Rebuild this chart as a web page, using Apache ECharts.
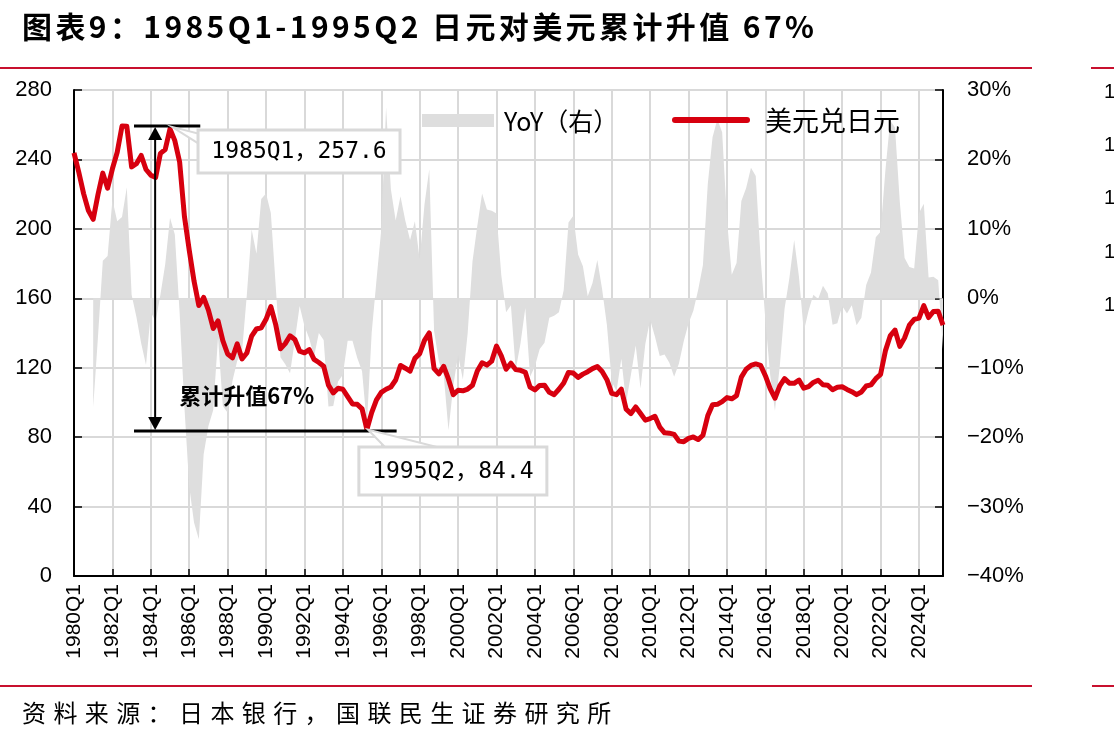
<!DOCTYPE html>
<html>
<head>
<meta charset="utf-8">
<title>1985Q1-1995Q2 日元对美元累计升值</title>
<script src="https://cdn.jsdelivr.net/npm/echarts@6/dist/echarts.min.js"></script>
<style>
    body { margin: 0; background: #fff; }
    #wrap { position: relative; width: 1114px; height: 740px; overflow: hidden; }
    #chart { position: absolute; left: 0; top: 0; width: 1114px; height: 740px; }
    .title {
        position: absolute; left: 22px; top: 9px;
        font: bold 30px/32px "Noto Sans CJK SC", sans-serif;
        letter-spacing: 3.4px; white-space: nowrap; color: #000;
    }
    .source {
        position: absolute; left: 22px; top: 699px;
        font: 24px/26px "Noto Sans CJK SC", sans-serif;
        letter-spacing: 7.4px; white-space: nowrap; color: #000;
    }
</style>
</head>
<body>
<div id="wrap">
    <div id="chart"></div>
    <div class="title">图表9：1985Q1-1995Q2 日元对美元累计升值 67%</div>
    <div class="source">资料来源：日本银行，国联民生证券研究所</div>
</div>
<script>
    // 季度标签 1980Q1 - 2025Q2
    const quarters = []
    for (let y = 1980; y <= 2025; y++) {
        for (let q = 1; q <= 4; q++) {
            if (y === 2025 && q > 2) break
            quarters.push(y + 'Q' + q)
        }
    }

    // 美元兑日元（季度均值）
    const usdJpy = [
        243.8, 232.6, 220.3, 210.5, // 1980
        205.5, 219.8, 232.1, 223.4,
        234.6, 244.1, 259.2, 259.1,
        235.7, 237.5, 242.3, 234.2,
        230.9, 229.6, 243.5, 245.7,
        257.6, 250.8, 238.5, 207.2, // 1985
        187.8, 169.9, 155.8, 160.5,
        153.2, 142.6, 147.0, 135.6,
        127.9, 125.7, 133.7, 125.1,
        128.5, 138.2, 142.3, 143.0,
        147.9, 155.2, 145.0, 130.9, // 1990
        133.9, 138.4, 136.3, 129.5,
        128.6, 130.4, 124.8, 123.0,
        120.9, 110.0, 105.5, 108.2,
        107.6, 103.3, 99.1, 98.9,
        96.3, 84.4, 94.1, 101.5, // 1995
        105.8, 107.6, 108.9, 112.9,
        121.3, 119.7, 118.0, 125.4,
        128.1, 135.8, 140.0, 119.5,
        116.5, 120.8, 113.4, 104.4,
        107.0, 106.7, 107.7, 109.9, // 2000
        118.1, 122.8, 121.5, 123.8,
        132.5, 126.8, 119.1, 122.6,
        118.9, 118.5, 117.4, 108.8,
        107.2, 109.8, 109.9, 105.8,
        104.5, 107.6, 111.2, 117.3, // 2005
        116.9, 114.4, 116.3, 117.7,
        119.5, 120.7, 117.8, 113.1,
        105.2, 104.5, 107.6, 96.1,
        93.6, 97.4, 93.6, 89.8,
        90.7, 92.0, 85.8, 82.5, // 2010
        82.3, 81.6, 77.7, 77.4,
        79.3, 80.1, 78.6, 81.1,
        92.3, 98.7, 98.9, 100.5,
        102.8, 102.1, 103.9, 114.6,
        119.1, 121.3, 122.2, 121.4, // 2015
        115.4, 108.0, 102.4, 109.5,
        113.7, 111.1, 111.0, 112.9,
        108.2, 109.1, 111.5, 112.8,
        110.2, 109.9, 107.3, 108.7,
        109.0, 107.5, 106.2, 104.5, // 2020
        106.0, 109.5, 110.1, 113.7,
        116.2, 129.7, 138.3, 141.7,
        132.3, 137.2, 144.5, 147.8,
        148.6, 155.8, 148.9, 152.4,
        152.5, 144.5 // 2025
    ]

    // 同比（%，右轴）
    const yoy = [
        null, null, null, null, // 1980
        -15.7, -5.5, 5.4, 6.1,
        14.2, 11.1, 11.7, 16.0,
        0.5, -2.7, -6.5, -9.6,
        -2.0, -3.3, 0.5, 4.9,
        11.6, 9.2, -2.1, -15.7, // 1985
        -27.1, -32.3, -34.7, -22.5,
        -18.4, -16.1, -5.6, -15.5,
        -16.5, -11.9, -9.0, -7.7,
        0.5, 9.9, 6.4, 14.3,
        15.1, 12.3, 1.9, -8.5, // 1990
        -9.5, -10.8, -6.0, -1.1,
        -4.0, -5.8, -8.4, -5.0,
        -6.0, -15.6, -15.5, -12.0,
        -11.0, -6.1, -6.1, -8.6,
        -10.5, -18.3, -5.0, 2.6, // 1995
        9.9, 27.5, 15.7, 11.2,
        14.7, 11.2, 8.4, 11.1,
        5.6, 13.5, 18.6, -4.7,
        -9.1, -11.0, -19.0, -12.6,
        -8.2, -11.7, -5.0, 5.3, // 2000
        10.4, 15.1, 12.8, 12.6,
        12.2, 3.3, -2.0, -1.0,
        -10.3, -6.5, -1.4, -11.3,
        -9.8, -7.3, -6.4, -2.8,
        -2.5, -2.0, 1.2, 10.9, // 2005
        11.9, 6.3, 4.6, 0.3,
        2.2, 5.5, 1.3, -3.9,
        -12.0, -13.4, -8.7, -15.0,
        -11.0, -6.8, -13.0, -6.6,
        -3.1, -5.5, -8.3, -8.1, // 2010
        -9.3, -11.3, -9.4, -6.2,
        -3.6, -1.8, 1.2, 4.8,
        16.4, 23.2, 25.8, 23.9,
        11.4, 3.4, 5.1, 14.0,
        15.9, 18.8, 17.6, 5.9, // 2015
        -3.1, -11.0, -16.2, -9.8,
        -1.5, 2.9, 8.4, 3.1,
        -4.8, -1.8, 0.5, -0.1,
        1.8, 0.7, -3.8, -3.6,
        -1.1, -2.2, -1.0, -3.9, // 2020
        -2.8, 1.9, 3.7, 8.8,
        9.6, 18.4, 25.6, 24.6,
        13.9, 5.8, 4.5, 4.3,
        12.3, 13.6, 3.0, 3.1,
        2.6, -7.3 // 2025
    ]

    // 左轴 / 右轴刻度
    const leftTicks = [0, 40, 80, 120, 160, 200, 240, 280]
    const rightTicks = [-40, -30, -20, -10, 0, 10, 20, 30]

    // 标注：起点 1985Q1，终点 1995Q2
    const peak = { name: '1985Q1', value: 257.6 }
    const trough = { name: '1995Q2', value: 84.4 }
    const noteText = '累计升值67%'

    const RED = '#D7000F'
    const GRID = '#D9D9D9'
    const FONT = 'Liberation Sans'
    const CJK = 'Noto Sans CJK SC'

    const chart = echarts.init(document.getElementById('chart'))

    const option = {
        animation: false,
        backgroundColor: '#fff',
        grid: {
            left: 74,
            right: 171,
            top: 90,
            bottom: 164
        },
        xAxis: {
            type: 'category',
            data: quarters,
            boundaryGap: false,
            axisLine: {
                lineStyle: { color: '#000', width: 2 }
            },
            axisTick: {
                inside: true,
                length: 7,
                interval: 7,
                lineStyle: { color: '#000', width: 1.5 }
            },
            axisLabel: {
                interval: 7,
                rotate: 90,
                margin: 8,
                fontSize: 21,
                color: '#000',
                fontFamily: FONT
            },
            splitLine: {
                show: true,
                interval: 7,
                lineStyle: { color: GRID, width: 2 }
            }
        },
        yAxis: [
            {
                type: 'value',
                min: leftTicks[0],
                max: leftTicks[leftTicks.length - 1],
                interval: 40,
                axisLine: {
                    show: true,
                    lineStyle: { color: '#000', width: 2 }
                },
                axisTick: {
                    show: true,
                    inside: true,
                    length: 8,
                    lineStyle: { color: '#000', width: 1.5 }
                },
                axisLabel: {
                    margin: 22,
                    fontSize: 22,
                    color: '#000',
                    fontFamily: FONT
                },
                splitLine: {
                    lineStyle: { color: GRID, width: 2 }
                }
            },
            {
                type: 'value',
                position: 'right',
                min: rightTicks[0],
                max: rightTicks[rightTicks.length - 1],
                interval: 10,
                axisLine: {
                    show: true,
                    lineStyle: { color: '#000', width: 2 }
                },
                axisTick: {
                    show: true,
                    inside: true,
                    length: 8,
                    lineStyle: { color: '#000', width: 1.5 }
                },
                axisLabel: {
                    margin: 24,
                    fontSize: 22,
                    color: '#000',
                    fontFamily: FONT,
                    formatter: function(v) {
                        return (v < 0 ? '\u2212' + (-v) : v) + '%'
                    }
                },
                splitLine: { show: false }
            }
        ],
        series: [
            {
                name: 'YoY（右）',
                type: 'line',
                yAxisIndex: 1,
                data: yoy,
                symbol: 'none',
                lineStyle: { width: 0 },
                areaStyle: { color: '#DEDEDE', opacity: 1 },
                z: 2
            },
            {
                name: '美元兑日元',
                type: 'line',
                yAxisIndex: 0,
                data: usdJpy,
                symbol: 'none',
                lineStyle: { color: RED, width: 5, join: 'round' },
                z: 3
            }
        ]
    }
    chart.setOption(option)

    //  标注与图例，位置由坐标轴换算
    const px = (i, v) => chart.convertToPixel({ seriesIndex: 1 }, [i, v])
    const x0 = px(0, 0)[0]
    const step = px(1, 0)[0] - x0
    const xAt = i => x0 + i * step

    const P1 = px(quarters.indexOf(peak.name), peak.value)
    const P2 = px(quarters.indexOf(trough.name), trough.value)
    const topY = P1[1] - 3
    const botY = P2[1] + 1.5
    const arrowX = xAt(16.9)

    const box1 = { x: P1[0] + 28, y: P1[1] + 1, w: 202, h: 43 }
    const box2 = { x: P2[0] - 8, y: P2[1] + 17.5, w: 188, h: 48 }

    const black = { stroke: '#000', lineWidth: 3 }
    const graphics = [
        // 上下红线
        { type: 'line', shape: { x1: 0, y1: 68, x2: 1032, y2: 68 }, style: { stroke: '#C8102E', lineWidth: 2 } },
        { type: 'line', shape: { x1: 1091, y1: 68, x2: 1114, y2: 68 }, style: { stroke: '#C8102E', lineWidth: 2 } },
        { type: 'line', shape: { x1: 0, y1: 686, x2: 1032, y2: 686 }, style: { stroke: '#C8102E', lineWidth: 2 } },
        { type: 'line', shape: { x1: 1092, y1: 686, x2: 1114, y2: 686 }, style: { stroke: '#C8102E', lineWidth: 2 } },

        // 图例
        { type: 'rect', shape: { x: 422, y: 114, width: 72, height: 13 }, style: { fill: '#DEDEDE' }, z: 10 },
        { type: 'text', x: 504, y: 121, style: { text: 'YoY（右）', fontSize: 25, fontFamily: CJK, fill: '#000', verticalAlign: 'middle' }, z: 10 },
        { type: 'line', shape: { x1: 675, y1: 120, x2: 747, y2: 120 }, style: { stroke: RED, lineWidth: 6, lineCap: 'round' }, z: 10 },
        { type: 'text', x: 765, y: 121, style: { text: '美元兑日元', fontSize: 27, fontFamily: CJK, fill: '#000', verticalAlign: 'middle' }, z: 10 },

        // 起止水平线
        { type: 'line', shape: { x1: xAt(12.5), y1: topY, x2: xAt(26.3), y2: topY }, style: black, z: 10 },
        { type: 'line', shape: { x1: xAt(12.5), y1: botY, x2: xAt(67.2), y2: botY }, style: black, z: 10 },

        // 双向箭头
        { type: 'line', shape: { x1: arrowX, y1: topY + 8, x2: arrowX, y2: botY - 8 }, style: { stroke: '#000', lineWidth: 2 }, z: 10 },
        { type: 'polygon', shape: { points: [[arrowX, topY + 1], [arrowX - 7, topY + 14], [arrowX + 7, topY + 14]] }, style: { fill: '#000' }, z: 10 },
        { type: 'polygon', shape: { points: [[arrowX, botY - 1], [arrowX - 7, botY - 14], [arrowX + 7, botY - 14]] }, style: { fill: '#000' }, z: 10 },
        { type: 'text', x: arrowX + 24, y: 396, style: { text: noteText, fontSize: 22, fontWeight: 'bold', fontFamily: CJK, fill: '#000', verticalAlign: 'middle' }, z: 10 },

        // 数据标签
        { type: 'polygon', shape: { points: [[P1[0] + 2, P1[1] - 2], [box1.x + 1, box1.y + 4], [box1.x + 1, box1.y + 14]] }, style: { fill: '#fff', stroke: GRID, lineWidth: 2 }, z: 11 },
        { type: 'rect', shape: { x: box1.x, y: box1.y, width: box1.w, height: box1.h }, style: { fill: '#fff', stroke: GRID, lineWidth: 3 }, z: 12 },
        { type: 'text', x: box1.x + box1.w / 2, y: box1.y + box1.h / 2 + 1, style: { text: peak.name + '，' + peak.value, fontSize: 23, fontFamily: 'DejaVu Sans Mono, ' + CJK, fill: '#000', align: 'center', verticalAlign: 'middle' }, z: 13 },

        { type: 'polygon', shape: { points: [[P2[0] + 1, P2[1]], [box2.x + 27, box2.y + 1], [box2.x + 82, box2.y + 1]] }, style: { fill: '#fff', stroke: GRID, lineWidth: 2 }, z: 11 },
        { type: 'rect', shape: { x: box2.x, y: box2.y, width: box2.w, height: box2.h }, style: { fill: '#fff', stroke: GRID, lineWidth: 3 }, z: 12 },
        { type: 'text', x: box2.x + box2.w / 2, y: box2.y + box2.h / 2 + 1, style: { text: trough.name + '，' + trough.value, fontSize: 23, fontFamily: 'DejaVu Sans Mono, ' + CJK, fill: '#000', align: 'center', verticalAlign: 'middle' }, z: 13 }
    ]

    // 右侧相邻图表被裁切的刻度
    ;[92, 145, 198, 252, 305].forEach(function(y) {
        graphics.push({ type: 'text', x: 1104, y: y, style: { text: '1', fontSize: 20, fontFamily: FONT, fill: '#000', verticalAlign: 'middle' } })
    })

    chart.setOption({ graphic: graphics })

    window.addEventListener('resize', () => {
        chart.resize()
    })
</script>
</body>
</html>
